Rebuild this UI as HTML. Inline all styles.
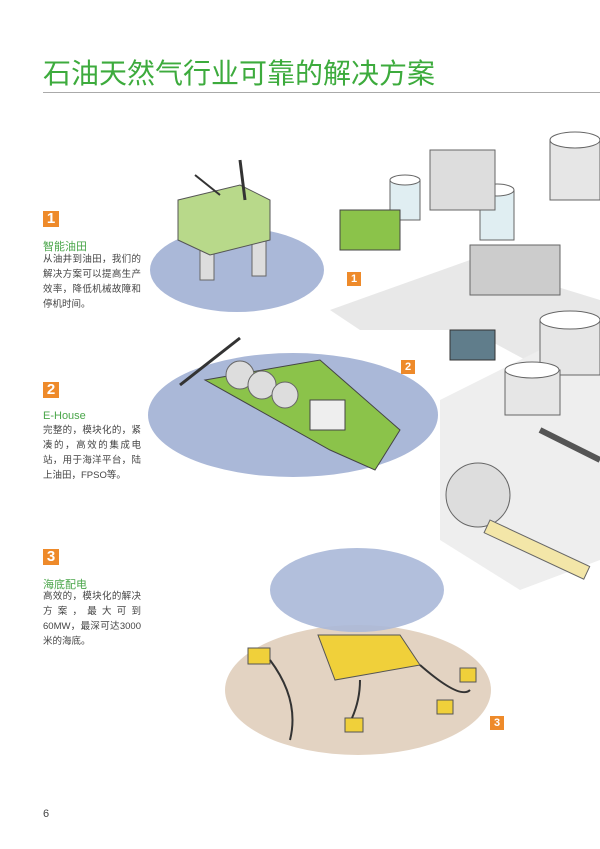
<!DOCTYPE html>
<html><head><meta charset="utf-8"><style>
body{margin:0;width:600px;height:849px;background:#fff;position:relative;overflow:hidden;font-family:"Liberation Sans","Noto Sans CJK SC",sans-serif}
.t{position:absolute;left:43px;top:52px;font-size:28px;color:#3dab3d;letter-spacing:0}
.ln{position:absolute;left:43px;top:92px;width:557px;height:1px;background:#aaa}
.b{position:absolute;width:16px;height:16px;background:#ee8a2a;color:#fff;font-weight:bold;font-size:15px;line-height:16px;text-align:center}
.h{position:absolute;left:43px;font-size:11px;color:#4aa64a}
.p{position:absolute;left:43px;width:98px;font-size:9.5px;line-height:15px;color:#444;text-align:justify}
.pn{position:absolute;left:43px;top:808px;font-size:11px;color:#444}
</style></head><body>
<div class="t">石油天然气行业可靠的解决方案</div>
<div class="ln"></div>
<div class="b" style="left:43px;top:211px">1</div>
<div class="h" style="top:238px">智能油田</div>
<div class="p" style="top:252px">从油井到油田，我们的解决方案可以提高生产效率，降低机械故障和停机时间。</div>
<div class="b" style="left:43px;top:382px">2</div>
<div class="h" style="top:410px">E-House</div>
<div class="p" style="top:423px">完整的，模块化的，紧凑的，高效的集成电站，用于海洋平台，陆上油田，FPSO等。</div>
<div class="b" style="left:43px;top:549px">3</div>
<div class="h" style="top:576px">海底配电</div>
<div class="p" style="top:589px">高效的，模块化的解决方案，最大可到60MW，最深可达3000米的海底。</div>
<div class="pn">6</div>
<svg width="600" height="849" style="position:absolute;left:0;top:0">
<ellipse cx="237" cy="270" rx="87" ry="42" fill="#aab8d8"/>
<ellipse cx="293" cy="415" rx="145" ry="62" fill="#aab8d8"/>
<ellipse cx="358" cy="690" rx="133" ry="65" fill="#e3d3c2"/>
<ellipse cx="357" cy="590" rx="87" ry="42" fill="#aab8d8" opacity=".9"/>
<rect x="200" y="240" width="14" height="40" fill="#ddd" stroke="#666"/>
<rect x="252" y="240" width="14" height="36" fill="#ddd" stroke="#666"/>
<polygon points="178,200 240,185 270,200 270,240 210,255 178,240" fill="#b8d98a" stroke="#555"/>
<line x1="240" y1="160" x2="245" y2="200" stroke="#333" stroke-width="3"/>
<line x1="195" y1="175" x2="220" y2="195" stroke="#333" stroke-width="2"/>
<polygon points="205,380 320,360 400,430 375,470 330,450" fill="#8bc34a" stroke="#444"/>
<circle cx="240" cy="375" r="14" fill="#ddd" stroke="#666"/>
<circle cx="262" cy="385" r="14" fill="#ddd" stroke="#666"/>
<circle cx="285" cy="395" r="13" fill="#ddd" stroke="#666"/>
<rect x="310" y="400" width="35" height="30" fill="#eee" stroke="#444"/>
<line x1="180" y1="385" x2="240" y2="338" stroke="#333" stroke-width="3"/>
<polygon points="318,635 400,635 420,665 335,680" fill="#f0d03a" stroke="#555"/>
<rect x="248" y="648" width="22" height="16" fill="#f0d03a" stroke="#555"/>
<rect x="460" y="668" width="16" height="14" fill="#f0d03a" stroke="#555"/>
<rect x="345" y="718" width="18" height="14" fill="#f0d03a" stroke="#555"/>
<rect x="437" y="700" width="16" height="14" fill="#f0d03a" stroke="#555"/>
<path d="M270 660 Q300 700 290 740 M420 665 Q460 700 470 690 M360 680 Q360 700 352 718" stroke="#333" fill="none" stroke-width="2"/>
<polygon points="330,310 470,260 600,300 600,400 470,330 360,330" fill="#e8e8e8"/>
<polygon points="440,400 600,320 600,560 520,590 440,540" fill="#eee"/>
<rect x="390" y="180" width="30" height="40" fill="#e0eef2" stroke="#666"/>
<ellipse cx="405" cy="180" rx="15" ry="5" fill="#fff" stroke="#666"/>
<rect x="480" y="190" width="34" height="50" fill="#e0eef2" stroke="#666"/>
<ellipse cx="497" cy="190" rx="17" ry="6" fill="#fff" stroke="#666"/>
<rect x="430" y="150" width="65" height="60" fill="#ddd" stroke="#666"/>
<rect x="550" y="140" width="50" height="60" fill="#e6e6e6" stroke="#666"/>
<ellipse cx="575" cy="140" rx="25" ry="8" fill="#fff" stroke="#666"/>
<rect x="470" y="245" width="90" height="50" fill="#ccc" stroke="#666"/>
<rect x="340" y="210" width="60" height="40" fill="#8bc34a" stroke="#444"/>
<rect x="450" y="330" width="45" height="30" fill="#607d8b" stroke="#333"/>
<rect x="540" y="320" width="60" height="55" fill="#e6e6e6" stroke="#666"/>
<ellipse cx="570" cy="320" rx="30" ry="9" fill="#fff" stroke="#666"/>
<rect x="505" y="370" width="55" height="45" fill="#e6e6e6" stroke="#666"/>
<ellipse cx="532" cy="370" rx="27" ry="8" fill="#fff" stroke="#666"/>
<circle cx="478" cy="495" r="32" fill="#ddd" stroke="#666"/>
<rect x="490" y="520" width="110" height="14" fill="#f3e6a8" stroke="#666" transform="rotate(25 490 520)"/>
<line x1="540" y1="430" x2="600" y2="460" stroke="#555" stroke-width="6"/>
</svg>
<div class="b" style="left:347px;top:272px;width:14px;height:14px;font-size:11px;line-height:14px">1</div>
<div class="b" style="left:401px;top:360px;width:14px;height:14px;font-size:11px;line-height:14px">2</div>
<div class="b" style="left:490px;top:716px;width:14px;height:14px;font-size:11px;line-height:14px">3</div>
</body></html>
